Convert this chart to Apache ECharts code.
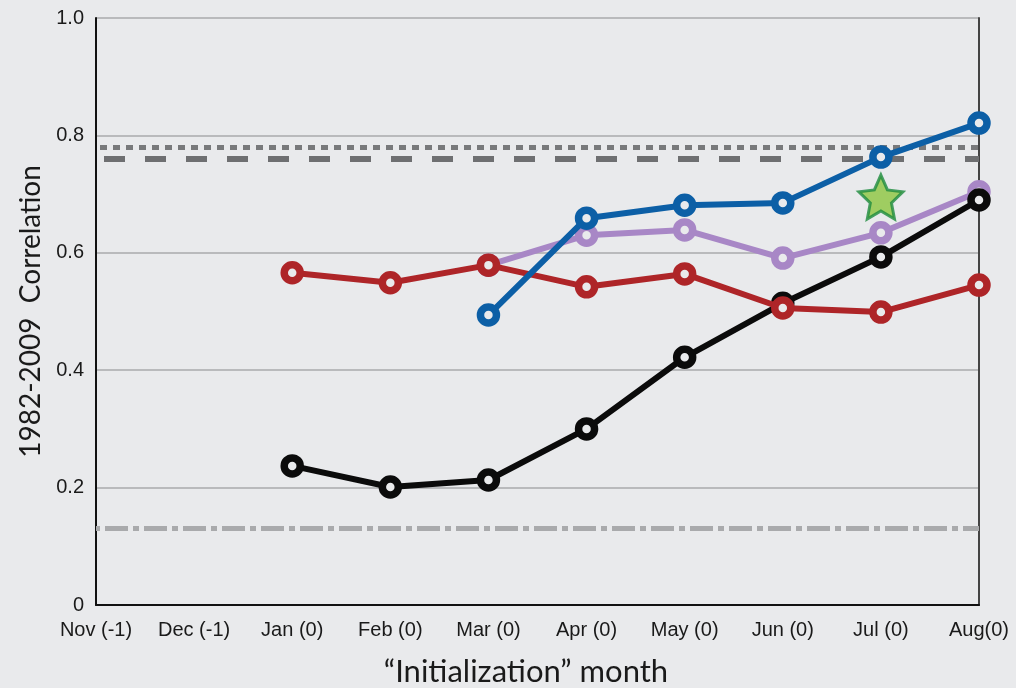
<!DOCTYPE html>
<html>
<head>
<meta charset="utf-8">
<script src="https://cdn.jsdelivr.net/npm/echarts@6/dist/echarts.min.js"></script>
<style>
  html, body { margin: 0; padding: 0; background: #e9eaec; }
  #chart { width: 1016px; height: 688px; }
</style>
</head>
<body>
<div id="chart"></div>
<script>
// Initialization months (lead months before the target season)
const months = ['Nov (-1)', 'Dec (-1)', 'Jan (0)', 'Feb (0)', 'Mar (0)', 'Apr (0)', 'May (0)', 'Jun (0)', 'Jul (0)', 'Aug(0)'];

// Correlation skill for each forecast set ('-' = not initialized that month)
const redValues    = ['-', '-', 0.566, 0.549, 0.579, 0.542, 0.564, 0.506, 0.499, 0.545];
const blackValues  = ['-', '-', 0.237, 0.201, 0.213, 0.300, 0.422, 0.514, 0.593, 0.690];
const blueValues   = ['-', '-', '-', '-', 0.494, 0.659, 0.681, 0.685, 0.763, 0.821];
const purpleValues = ['-', '-', '-', '-', 0.579, 0.630, 0.639, 0.591, 0.634, 0.704];

// Single highlighted result
const starValues = ['-', '-', '-', '-', '-', '-', '-', '-', 0.695, '-'];

// Horizontal reference levels
const dottedLevel = 0.784;
const dashedLevel = 0.756;
const dashDotLevel = 0.133;

const bg = '#e9eaec';
const starPath = 'path://M50,2 L64.11,32.58 L97.55,36.55 L72.83,59.42 L79.39,92.45 L50,76 L20.61,92.45 L27.17,59.42 L2.45,36.55 L35.89,32.58 Z';

function lineSeries(name, data, color, z) {
  return {
    name: name,
    type: 'line',
    data: data,
    z: z,
    symbol: 'circle',
    symbolSize: 16,
    showAllSymbol: true,
    lineStyle: { color: color, width: 6 },
    itemStyle: { color: bg, borderColor: color, borderWidth: 7.5 },
    emphasis: { disabled: true },
    animation: false
  };
}

const chart = echarts.init(document.getElementById('chart'), null, { renderer: 'canvas' });
chart.setOption({
  backgroundColor: bg,
  animation: false,
  grid: { left: 96, right: 37, top: 18, bottom: 83, containLabel: false },
  title: {
    text: '\u201CInitialization\u201D month',
    left: 521, top: 651, textAlign: 'center',
    textStyle: { fontFamily: 'Lato', fontSize: 31, fontWeight: 'normal', color: '#1a1a1a' }
  },
  xAxis: {
    type: 'category',
    data: months,
    boundaryGap: false,
    axisLine: { lineStyle: { color: '#111', width: 2 } },
    axisTick: { show: false },
    axisLabel: { fontFamily: 'Liberation Sans', fontSize: 20, color: '#1a1a1a', margin: 15, interval: 0 },
    splitLine: { show: false }
  },
  yAxis: [
    {
      type: 'value',
      min: 0, max: 1, interval: 0.2,
      name: '1982-2009  Correlation',
      nameLocation: 'middle',
      nameRotate: 90,
      nameGap: 50,
      nameTextStyle: { fontFamily: 'Lato', fontSize: 28, color: '#1a1a1a' },
      axisLine: { show: true, lineStyle: { color: '#111', width: 2 } },
      axisTick: { show: false },
      axisLabel: {
        fontFamily: 'Liberation Sans', fontSize: 20, color: '#1a1a1a', margin: 12,
        formatter: v => (v === 0 ? '0' : v.toFixed(1))
      },
      splitLine: { lineStyle: { color: '#b9babc', width: 2 } }
    },
    {
      type: 'value',
      position: 'right',
      min: 0, max: 1, interval: 0.2,
      axisLine: { show: true, lineStyle: { color: '#444', width: 2 } },
      axisTick: { show: false },
      axisLabel: { show: false },
      splitLine: { show: false }
    }
  ],
  series: [
    {
      type: 'line',
      data: [],
      silent: true,
      markLine: {
        silent: true,
        symbol: 'none',
        label: { show: false },
        emphasis: { disabled: true },
        data: [
          { yAxis: dottedLevel, lineStyle: { color: '#78797b', width: 5, type: [7, 6], dashOffset: 9 } },
          { yAxis: dashedLevel, lineStyle: { color: '#6e6f71', width: 6, type: [21, 20], dashOffset: 33 } },
          { yAxis: dashDotLevel, lineStyle: { color: '#a9aaac', width: 5, type: [6, 5, 23, 5], dashOffset: 2 } }
        ]
      },
      z: 1
    },
    lineSeries('purple', purpleValues, '#a887c6', 3),
    lineSeries('black', blackValues, '#0b0b0b', 4),
    lineSeries('red', redValues, '#ae2528', 5),
    lineSeries('blue', blueValues, '#0c5fa6', 6),
    {
      type: 'scatter',
      data: starValues,
      symbol: starPath,
      symbolSize: 44,
      z: 7,
      itemStyle: { color: '#8cc63f', borderColor: '#1d8b3d', borderWidth: 3 },
      emphasis: { disabled: true }
    }
  ]
});
</script>
</body>
</html>
